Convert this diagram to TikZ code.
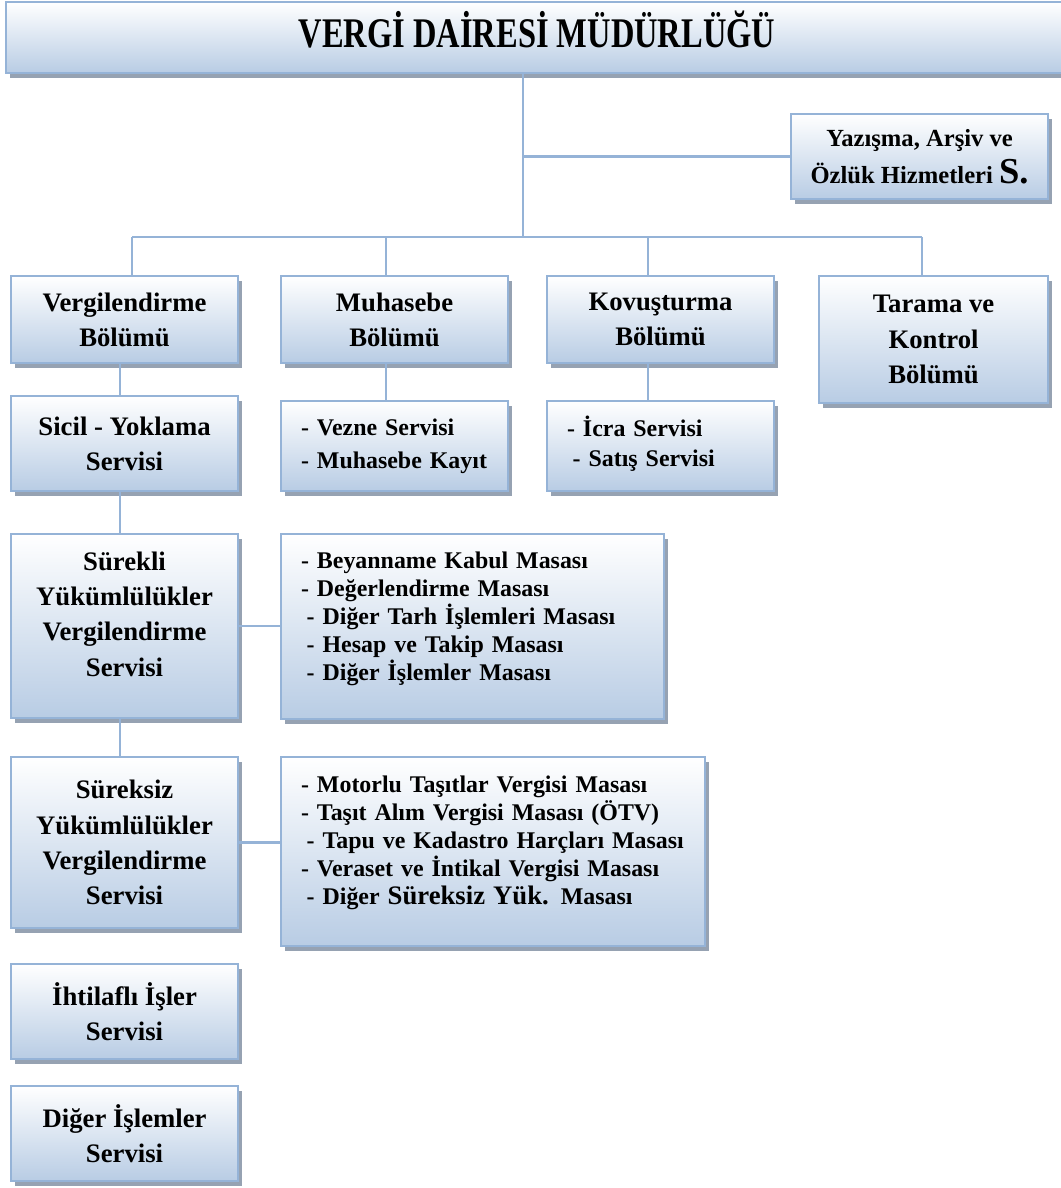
\documentclass[tikz,border=0pt]{standalone}
\usepackage{fontspec}
\setmainfont{Liberation Serif}
\usepackage{graphicx}
\usetikzlibrary{shadows}

\definecolor{boxline}{RGB}{149,179,215}
\definecolor{boxfill}{RGB}{184,204,228}
\definecolor{boxshade}{RGB}{150,162,178}

\begin{document}
\begin{tikzpicture}[
  x=0.025cm, y=-0.025cm,
  box/.style={draw=boxline, line width=1.5pt, top color=white, bottom color=boxfill,
    drop shadow={shadow xshift=2.8pt, shadow yshift=-3.5pt, fill=boxshade, opacity=1},
    anchor=north west, inner sep=3pt, align=center,
    font=\bfseries\fontsize{19}{25}\selectfont},
  listbox/.style={box, align=left, inner xsep=20*\px,
    font=\bfseries\fontsize{17}{19.9}\selectfont},
  link/.style={draw=boxline, line width=1.9pt},
  ]

  % Parameters
  \def\px{0.025cm}

  \useasboundingbox (0,0) rectangle (1060,1188);

  % Head
  \node[box, minimum width=1062*\px, minimum height=71*\px,
    font=\bfseries\fontsize{30}{36}\selectfont] (mud) at (5,1)
    {\raisebox{5.7pt}[\height][\depth]{\scalebox{0.77}[1]{VERGİ DAİRESİ MÜDÜRLÜĞÜ}}};
  \node[box, minimum width=257*\px, minimum height=85*\px,
    font=\bfseries\fontsize{17.5}{26}\selectfont] (yaz) at (790,113)
    {Yazışma, Arşiv ve\\Özlük Hizmetleri {\fontsize{26}{26}\selectfont S.}};

  % Departments
  \node[box, minimum width=227*\px, minimum height=87*\px] (verg) at (10,275)
    {Vergilendirme\\Bölümü};
  \node[box, minimum width=227*\px, minimum height=87*\px] (muh) at (280,275)
    {Muhasebe\\Bölümü};
  \node[box, minimum width=227*\px, minimum height=87*\px] (kov) at (546,275)
    {Kovuşturma\\Bölümü};
  \node[box, minimum width=229*\px, minimum height=127*\px] (tar) at (818,275)
    {Tarama ve\\Kontrol\\Bölümü};

  % Services
  \node[box, minimum width=227*\px, minimum height=95*\px] (sic) at (10,395)
    {Sicil - Yoklama\\Servisi};
  \node[listbox, text width=187*\px, minimum height=90*\px,
    font=\bfseries\fontsize{17}{23.5}\selectfont] (vez) at (280,400)
    {- Vezne Servisi\\- Muhasebe Kayıt};
  \node[listbox, text width=187*\px, minimum height=90*\px,
    font=\bfseries\fontsize{17}{21.3}\selectfont] (icr) at (546,400)
    {- İcra Servisi\\\hspace*{4pt}- Satış Servisi\\[-14pt]\mbox{}};
  \node[box, minimum width=227*\px, minimum height=184*\px] (sur) at (10,533)
    {Sürekli\\Yükümlülükler\\Vergilendirme\\Servisi\\[-8pt]\mbox{}};
  \node[listbox, text width=343*\px, minimum height=185*\px] (bey) at (280,533)
    {- Beyanname Kabul Masası\\
     - Değerlendirme Masası\\
     \hspace*{4pt}- Diğer Tarh İşlemleri Masası\\
     \hspace*{4pt}- Hesap ve Takip Masası\\
     \hspace*{4pt}- Diğer İşlemler Masası\\[-5.7pt]\mbox{}};
  \node[box, minimum width=227*\px, minimum height=171*\px] (srk) at (10,756)
    {Süreksiz\\Yükümlülükler\\Vergilendirme\\Servisi};
  \node[listbox, text width=384*\px, minimum height=189*\px] (mot) at (280,756)
    {- Motorlu Taşıtlar Vergisi Masası\\
     - Taşıt Alım Vergisi Masası (ÖTV)\\
     \hspace*{4pt}- Tapu ve Kadastro Harçları Masası\\
     - Veraset ve İntikal Vergisi Masası\\
     \hspace*{4pt}- Diğer {\fontsize{19}{19.9}\selectfont Süreksiz Yük.} Masası\\[-3.5pt]\mbox{}};
  \node[box, minimum width=227*\px, minimum height=95*\px] (iht) at (10,963)
    {İhtilaflı İşler\\Servisi};
  \node[box, minimum width=227*\px, minimum height=95*\px] (dig) at (10,1085)
    {Diğer İşlemler\\Servisi};

  % Trunk and bus
  \coordinate (trunk) at (523,237);
  \coordinate (b1) at (132,237);
  \coordinate (b2) at (386,237);
  \coordinate (b3) at (648,237);
  \coordinate (b4) at (922,237);
  \coordinate (chain) at (120,0);
  \draw[link] (mud.south -| trunk) -- (trunk);
  \draw[link] (trunk |- yaz.west) -- (yaz.west);
  \draw[link] (b1) -- (b4);
  \foreach \b/\n in {b1/verg, b2/muh, b3/kov, b4/tar}
    \draw[link] (\b) -- (\b |- \n.north);

  % Chains
  \draw[link] (verg.south -| chain) -- (sic.north -| chain);
  \draw[link] (sic.south -| chain) -- (sur.north -| chain);
  \draw[link] (sur.south -| chain) -- (srk.north -| chain);
  \draw[link] (muh.south -| b2) -- (vez.north -| b2);
  \draw[link] (kov.south -| b3) -- (icr.north -| b3);
  \draw[link] (sur.east) -- (sur.east -| bey.west);
  \draw[link] (srk.east) -- (srk.east -| mot.west);

\end{tikzpicture}
\end{document}
